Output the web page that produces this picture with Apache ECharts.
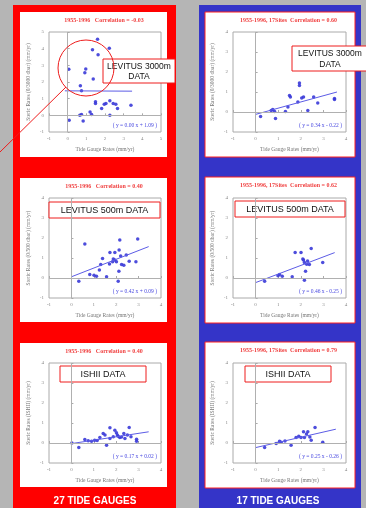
<!DOCTYPE html>
<html>
<head>
<meta charset="utf-8">
<script src="https://cdn.jsdelivr.net/npm/echarts@6/dist/echarts.min.js"></script>
<style>
  html, body { margin: 0; padding: 0; background: #b5b5b5; }
  #chart { width: 366px; height: 508px; }
</style>
</head>
<body>
<div id="chart"></div>
<script>
// tide gauge rate (x) vs steric rate (y), mm/yr
const lev3000All = [
  [1.60, 4.57], [2.23, 4.03], [1.33, 3.93], [1.63, 3.63], [0.06, 2.76], [0.97, 2.78],
  [0.92, 2.56], [1.37, 2.18], [0.68, 1.78], [0.74, 1.47], [1.49, 0.81], [1.49, 0.71],
  [2.26, 0.87], [2.05, 0.71], [1.96, 0.67], [1.82, 0.41], [2.44, 0.71], [2.58, 0.67],
  [2.67, 0.41], [3.39, 0.61], [0.65, 0.01], [0.74, 0.05], [1.28, 0.05], [2.26, 0.01],
  [0.08, -0.30], [0.83, -0.34], [1.20, 0.20]
]
const lev3000Sub = [
  [1.94, 1.45], [1.94, 1.32], [1.50, 0.83], [1.54, 0.75], [2.04, 0.70], [2.12, 0.75],
  [2.57, 0.75], [3.49, 0.67], [3.49, 0.62], [2.75, 0.45], [1.87, 0.50], [1.43, 0.25],
  [1.32, 0.03], [0.76, 0.12], [0.69, 0.07], [0.84, 0.03], [0.22, -0.22], [0.88, -0.33],
  [2.31, 0.08]
]
const lev500All = [
  [2.96, 1.95], [2.16, 1.90], [0.60, 1.70], [2.13, 1.40], [1.72, 1.27], [1.94, 1.27],
  [1.39, 0.98], [1.87, 0.95], [1.94, 0.90], [1.84, 0.81], [2.01, 0.81], [2.58, 0.84],
  [2.88, 0.81], [1.31, 0.68], [2.24, 0.68], [2.34, 0.64], [2.12, 0.34], [0.82, 0.17],
  [1.01, 0.14], [1.12, 0.09], [1.57, 0.06], [2.09, -0.16], [0.33, -0.16], [2.20, 1.10],
  [1.70, 0.70], [2.45, 1.15], [1.25, 0.40]
]
const lev500Sub = [
  [2.46, 1.48], [1.75, 1.27], [2.01, 1.27], [2.12, 0.90], [2.16, 0.78], [2.26, 0.69],
  [2.38, 0.68], [2.97, 0.78], [2.21, 0.34], [1.06, 0.17], [1.18, 0.09], [0.99, 0.11],
  [1.62, 0.06], [0.40, -0.16], [2.16, -0.11], [2.09, 0.95], [2.30, 0.85]
]
const ishiiAll = [
  [2.58, 0.78], [1.72, 0.76], [1.94, 0.64], [1.42, 0.48], [2.01, 0.51], [2.34, 0.48],
  [2.09, 0.34], [2.16, 0.28], [2.39, 0.22], [1.87, 0.31], [2.91, 0.19], [2.91, 0.09],
  [1.72, 0.22], [1.27, 0.28], [1.04, 0.14], [0.90, 0.09], [0.75, 0.11], [0.60, 0.17],
  [1.57, -0.11], [0.33, -0.23], [2.66, 0.31], [2.24, 0.30], [1.50, 0.40], [2.50, 0.40],
  [1.15, 0.12], [2.05, 0.40], [0.02, 0.00]
]
const ishiiSub = [
  [2.63, 0.78], [2.12, 0.56], [2.31, 0.56], [2.46, 0.14], [1.79, 0.28], [2.01, 0.28],
  [2.16, 0.28], [1.06, 0.09], [1.13, 0.04], [0.91, -0.03], [2.97, 0.04], [1.57, -0.11],
  [0.40, -0.23], [1.91, 0.34], [2.40, 0.30], [1.30, 0.10], [2.25, 0.45]
]

// regression line end points as drawn on the slide
const fitLev3000All = [[-0.15, 1.47], [3.45, 1.45]]
const fitLev3000Sub = [[0.0, -0.12], [3.6, 1.0]]
const fitLev500All = [[0.0, 0.06], [3.45, 1.57]]
const fitLev500Sub = [[0.0, -0.23], [3.5, 1.27]]
const fitIshiiAll = [[0.0, -0.03], [3.45, 0.56]]
const fitIshiiSub = [[0.0, -0.23], [3.55, 0.69]]

const panelTitles = [
  '1955-1996   Correlation = -0.03',
  '1955-1996, 17Sites  Correlation = 0.60',
  '1955-1996   Correlation = 0.40',
  '1955-1996, 17Sites  Correlation = 0.62',
  '1955-1996   Correlation = 0.40',
  '1955-1996, 17Sites  Correlation = 0.79'
]
const equations = [
  '( y = 0.00 x + 1.09 )',
  '( y = 0.34 x - 0.22 )',
  '( y = 0.42 x + 0.09 )',
  '( y = 0.46 x - 0.25 )',
  '( y = 0.17 x + 0.02 )',
  '( y = 0.25 x - 0.26 )'
]
const yNames = [
  'Steric Rates (0/3000 dbar) (mm/yr)',
  'Steric Rates (0/3000 dbar) (mm/yr)',
  'Steric Rates (0/500 dbar) (mm/yr)',
  'Steric Rates (0/500 dbar) (mm/yr)',
  'Steric Rates (ISHII) (mm/yr)',
  'Steric Rates (ISHII) (mm/yr)'
]
const xName = 'Tide Gauge Rates (mm/yr)'
const footLabels = ['27 TIDE GAUGES', '17 TIDE GAUGES']

const scatterSets = [lev3000All, lev3000Sub, lev500All, lev500Sub, ishiiAll, ishiiSub]
const fitSets = [fitLev3000All, fitLev3000Sub, fitLev500All, fitLev500Sub, fitIshiiAll, fitIshiiSub]
const axisMax = [5, 4, 4, 4, 4, 4]

// plot boxes: [left, top, width, height]
const boxes = [
  [49, 32, 112, 100], [233, 32, 113, 100],
  [49, 198, 112, 100], [233, 198, 113, 100],
  [49, 363, 112, 100], [233, 363, 113, 100]
]
// white card behind each plot
const cards = [
  [20, 12, 147, 145], [205, 12, 150, 145],
  [20, 178, 147, 144], [205, 177, 150, 146],
  [20, 343, 147, 144], [205, 342, 150, 146]
]

const chart = echarts.init(document.getElementById('chart'), null, { renderer: 'canvas' })

const serif = 'Liberation Serif'
const sans = 'Liberation Sans'
const dotColor = '#3a3ad8'

const grid = [], xAxis = [], yAxis = [], series = []
boxes.forEach((b, i) => {
  grid.push({ left: b[0], top: b[1], width: b[2], height: b[3], show: true,
    borderColor: '#aaaaaa', borderWidth: 1, backgroundColor: 'transparent' })
  xAxis.push({
    gridIndex: i, type: 'value', min: -1, max: axisMax[i], interval: 1,
    name: xName, nameLocation: 'middle', nameGap: 15,
    nameTextStyle: { fontFamily: serif, fontSize: 5.5, color: '#777' },
    axisLine: { show: false }, splitLine: { show: false },
    axisTick: { show: true, length: 2, inside: true, lineStyle: { color: '#aaa' } },
    axisLabel: { fontFamily: serif, fontSize: 5, color: '#888', margin: 4 }
  })
  yAxis.push({
    gridIndex: i, type: 'value', min: -1, max: axisMax[i], interval: 1,
    name: yNames[i], nameLocation: 'middle', nameGap: 17,
    nameTextStyle: { fontFamily: serif, fontSize: 5.5, color: '#777' },
    axisLine: { show: false }, splitLine: { show: false },
    axisTick: { show: true, length: 2, inside: true, lineStyle: { color: '#aaa' } },
    axisLabel: { fontFamily: serif, fontSize: 5, color: '#888', margin: 5 }
  })
  series.push({
    type: 'line', xAxisIndex: i, yAxisIndex: i, data: fitSets[i],
    symbol: 'none', silent: true,
    lineStyle: { color: '#5c5ce6', width: 1 },
    markLine: {
      silent: true, symbol: 'none', label: { show: false },
      lineStyle: { color: '#b0b0b0', width: 1, type: 'solid' },
      data: [{ xAxis: 0 }, { yAxis: 0 }]
    }
  })
  series.push({
    type: 'scatter', xAxisIndex: i, yAxisIndex: i, data: scatterSets[i],
    symbol: 'circle', symbolSize: 3.5,
    itemStyle: { color: dotColor, opacity: 0.9 }
  })
})

const graphic = [
  // coloured panels
  { type: 'rect', z: -20, shape: { x: 13, y: 5, width: 163, height: 503 }, style: { fill: '#ff0000' } },
  { type: 'rect', z: -20, shape: { x: 199, y: 5, width: 162, height: 503 }, style: { fill: '#3434c8' } }
]
cards.forEach((c, i) => {
  graphic.push({ type: 'rect', z: -10, shape: { x: c[0], y: c[1], width: c[2], height: c[3] },
    style: { fill: '#ffffff', stroke: i % 2 ? '#ff2020' : null, lineWidth: 1 } })
  const b = boxes[i]
  graphic.push({ type: 'text', z: 5, x: b[0] + b[2] / 2 - 1, y: c[1] + 8,
    style: { text: panelTitles[i], fontFamily: serif, fontSize: 6, fontWeight: 'bold',
      fill: '#f04040', align: 'center', verticalAlign: 'middle' } })
  graphic.push({ type: 'text', z: 5, x: b[0] + b[2] - 4, y: b[1] + b[3] - 6,
    style: { text: equations[i], fontFamily: serif, fontSize: 5.5,
      fill: '#4a4ae0', align: 'right', verticalAlign: 'middle' } })
})

// callouts
const callout = (x, y, w, h, text, size) => ({
  type: 'group', z: 50, children: [
    { type: 'rect', shape: { x: x, y: y, width: w, height: h },
      style: { fill: '#ffffff', stroke: '#ee1c1c', lineWidth: 1 } },
    { type: 'text', x: x + w / 2, y: y + h / 2 + 0.5,
      style: { text: text, fontFamily: sans, fontSize: size, fill: '#111', align: 'center',
        verticalAlign: 'middle', lineHeight: size + 2 } }
  ]
})
graphic.push(
  { type: 'circle', z: 40, shape: { cx: 86, cy: 68, r: 28 },
    style: { fill: null, stroke: '#ee1c1c', lineWidth: 1 } },
  { type: 'line', z: 40, shape: { x1: 66, y1: 87, x2: 0, y2: 152 },
    style: { stroke: '#ee1c1c', lineWidth: 1 } },
  callout(103, 59, 72, 24, 'LEVITUS 3000m\nDATA', 8.5),
  callout(292, 46, 76, 25, 'LEVITUS 3000m\nDATA', 8.5),
  callout(49, 202, 111, 16, 'LEVITUS 500m DATA', 9),
  callout(235, 201, 110, 16, 'LEVITUS 500m DATA', 9),
  callout(60, 366, 86, 16, 'ISHII DATA', 9),
  callout(245, 366, 86, 16, 'ISHII DATA', 9),
  { type: 'text', z: 50, x: 95, y: 501,
    style: { text: footLabels[0], fontFamily: sans, fontSize: 10, fontWeight: 'bold',
      fill: '#ffffff', align: 'center', verticalAlign: 'middle' } },
  { type: 'text', z: 50, x: 278, y: 501,
    style: { text: footLabels[1], fontFamily: sans, fontSize: 10, fontWeight: 'bold',
      fill: '#ffffff', align: 'center', verticalAlign: 'middle' } }
)

chart.setOption({
  backgroundColor: '#b5b5b5',
  animation: false,
  grid: grid,
  xAxis: xAxis,
  yAxis: yAxis,
  series: series,
  graphic: graphic
})
</script>
</body>
</html>
